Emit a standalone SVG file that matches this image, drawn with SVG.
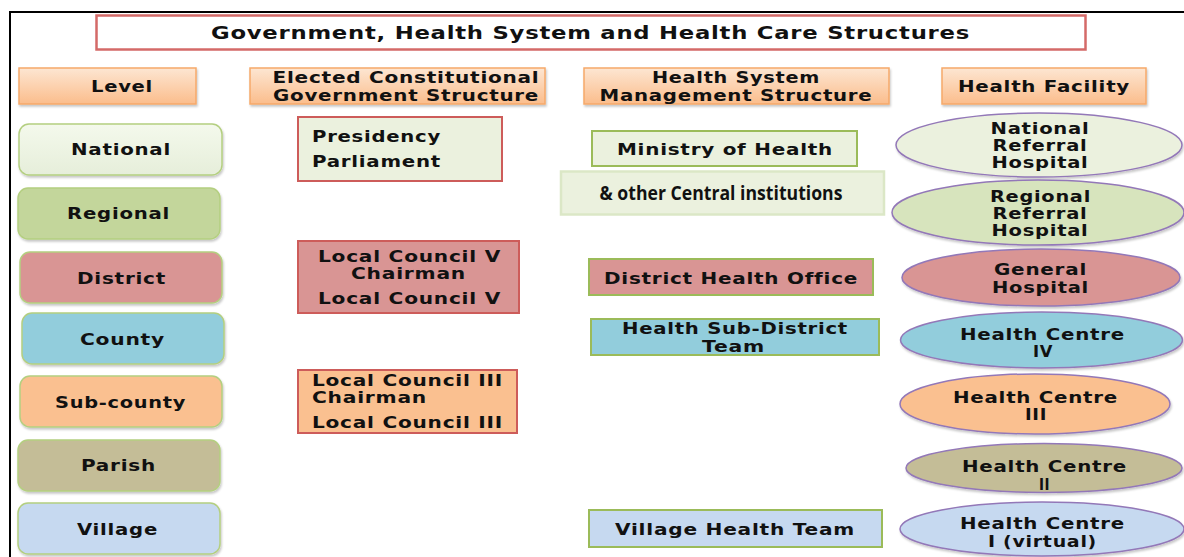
<svg xmlns="http://www.w3.org/2000/svg" width="1184" height="557" viewBox="0 0 1184 557">
  <defs>
    <linearGradient id="hdr" x1="0" y1="0" x2="0" y2="1">
      <stop offset="0" stop-color="#fde6d2"/>
      <stop offset="1" stop-color="#fbbd8c"/>
    </linearGradient>
    <linearGradient id="natl" x1="0" y1="0" x2="0" y2="1">
      <stop offset="0" stop-color="#f4f9ec"/>
      <stop offset="1" stop-color="#e6eeda"/>
    </linearGradient>
    <filter id="sh" x="-10%" y="-20%" width="120%" height="150%">
      <feDropShadow dx="1" dy="2" stdDeviation="1.2" flood-color="#000" flood-opacity="0.22"/>
    </filter>
    <style>
      text { font-family: "DejaVu Sans", Verdana, sans-serif; font-weight: bold; font-size: 16px; letter-spacing: 0.6px; fill: #111; text-anchor: middle; }
      .title { font-size: 18px; }
      .left { text-anchor: start; }
      .cal { font-family: "Open Sans", "Liberation Sans", sans-serif; font-weight: bold; font-size: 19px; letter-spacing: 0; }
      .hdr { fill: url(#hdr); stroke: #f6a96a; stroke-width: 1.5; filter: url(#sh); }
      .lvl { stroke: #b4cf80; stroke-width: 1.5; filter: url(#sh); }
      .gov { stroke: #cd5c5a; stroke-width: 2; }
      .hs { stroke: #9bbb59; stroke-width: 2; }
      .fac { stroke: #9378b8; stroke-width: 1.5; filter: url(#sh); }
      .green1 { fill: #ebf1de; }
      .green2 { fill: #c3d69b; }
      .green3 { fill: #d7e4bd; }
      .rose { fill: #d99594; }
      .blue { fill: #92cddc; }
      .peach { fill: #fac090; }
      .tan { fill: #c4bd97; }
      .sky { fill: #c6d9f0; }
    </style>
  </defs>

  <rect width="1184" height="557" fill="#ffffff"/>
  <!-- outer frame -->
  <path d="M10 557 V12 H1184" fill="none" stroke="#000" stroke-width="2"/>

  <!-- title -->
  <g id="title">
    <rect x="96.5" y="15.5" width="989" height="34" fill="#fff" stroke="#d46a68" stroke-width="2.5"/>
    <text class="title" x="590.5" y="39" textLength="759" lengthAdjust="spacingAndGlyphs">Government, Health System and Health Care Structures</text>
  </g>

  <!-- column headers -->
  <g id="hdr-level">
    <rect class="hdr" x="19" y="68" width="177" height="36"/>
    <text x="122" y="92" textLength="62" lengthAdjust="spacingAndGlyphs">Level</text>
  </g>
  <g id="hdr-gov">
    <rect class="hdr" x="250" y="68" width="295" height="36"/>
    <text x="406" y="83" textLength="267" lengthAdjust="spacingAndGlyphs">Elected Constitutional</text>
    <text x="406" y="101" textLength="266" lengthAdjust="spacingAndGlyphs">Government Structure</text>
  </g>
  <g id="hdr-hs">
    <rect class="hdr" x="584" y="68" width="305" height="36"/>
    <text x="736" y="83" textLength="168" lengthAdjust="spacingAndGlyphs">Health System</text>
    <text x="736" y="101" textLength="273" lengthAdjust="spacingAndGlyphs">Management Structure</text>
  </g>
  <g id="hdr-fac">
    <rect class="hdr" x="942" y="68" width="204" height="36"/>
    <text x="1044" y="92" textLength="172" lengthAdjust="spacingAndGlyphs">Health Facility</text>
  </g>

  <!-- levels -->
  <g id="lvl-national">
    <rect class="lvl" x="19" y="124" width="203" height="51" rx="10" fill="url(#natl)"/>
    <text x="121" y="155" textLength="100" lengthAdjust="spacingAndGlyphs">National</text>
  </g>
  <g id="lvl-regional">
    <rect class="lvl green2" x="18" y="188" width="202" height="51" rx="10"/>
    <text x="118.5" y="219" textLength="103" lengthAdjust="spacingAndGlyphs">Regional</text>
  </g>
  <g id="lvl-district">
    <rect class="lvl rose" x="20" y="252" width="202" height="51" rx="10"/>
    <text x="121.5" y="284" textLength="89" lengthAdjust="spacingAndGlyphs">District</text>
  </g>
  <g id="lvl-county">
    <rect class="lvl blue" x="22" y="313" width="202" height="51" rx="10"/>
    <text x="122.5" y="345" textLength="85" lengthAdjust="spacingAndGlyphs">County</text>
  </g>
  <g id="lvl-subcounty">
    <rect class="lvl peach" x="20" y="376" width="202" height="51" rx="10"/>
    <text x="120.5" y="408" textLength="131" lengthAdjust="spacingAndGlyphs">Sub-county</text>
  </g>
  <g id="lvl-parish">
    <rect class="lvl tan" x="18" y="440" width="202" height="51" rx="10"/>
    <text x="118.5" y="471" textLength="75" lengthAdjust="spacingAndGlyphs">Parish</text>
  </g>
  <g id="lvl-village">
    <rect class="lvl sky" x="18" y="503" width="202" height="51" rx="10"/>
    <text x="117.5" y="535" textLength="81" lengthAdjust="spacingAndGlyphs">Village</text>
  </g>

  <!-- government structure -->
  <g id="gov-national">
    <rect class="gov green1" x="298" y="117" width="204" height="64"/>
    <text class="left" x="312" y="142" textLength="129" lengthAdjust="spacingAndGlyphs">Presidency</text>
    <text class="left" x="312" y="167" textLength="129" lengthAdjust="spacingAndGlyphs">Parliament</text>
  </g>
  <g id="gov-district">
    <rect class="gov rose" x="298" y="241" width="221" height="72"/>
    <text x="409.5" y="262" textLength="183" lengthAdjust="spacingAndGlyphs">Local Council V</text>
    <text x="408.5" y="279" textLength="115" lengthAdjust="spacingAndGlyphs">Chairman</text>
    <text x="409.5" y="304" textLength="183" lengthAdjust="spacingAndGlyphs">Local Council V</text>
  </g>
  <g id="gov-subcounty">
    <rect class="gov peach" x="298" y="370" width="219" height="63"/>
    <text class="left" x="312" y="386" textLength="191" lengthAdjust="spacingAndGlyphs">Local Council III</text>
    <text class="left" x="312" y="403" textLength="115" lengthAdjust="spacingAndGlyphs">Chairman</text>
    <text class="left" x="312" y="428" textLength="191" lengthAdjust="spacingAndGlyphs">Local Council III</text>
  </g>

  <!-- health system management -->
  <g id="hs-moh">
    <rect class="hs green1" x="592" y="131" width="265" height="35"/>
    <text x="725" y="155" textLength="216" lengthAdjust="spacingAndGlyphs">Ministry of Health</text>
  </g>
  <g id="hs-central">
    <rect x="561" y="171.5" width="323" height="43" fill="#ebf1de" stroke="#dbe7c6" stroke-width="2.5"/>
    <text class="cal" x="721" y="200" textLength="243" lengthAdjust="spacingAndGlyphs">&amp; other Central institutions</text>
  </g>
  <g id="hs-dho">
    <rect class="hs rose" x="589" y="259" width="284" height="36"/>
    <text x="731" y="284" textLength="254" lengthAdjust="spacingAndGlyphs">District Health Office</text>
  </g>
  <g id="hs-hsd">
    <rect class="hs blue" x="591" y="319" width="288" height="36"/>
    <text x="735" y="334" textLength="226" lengthAdjust="spacingAndGlyphs">Health Sub-District</text>
    <text x="733.5" y="352" textLength="63" lengthAdjust="spacingAndGlyphs">Team</text>
  </g>
  <g id="hs-vht">
    <rect class="hs sky" x="589" y="510" width="293" height="37"/>
    <text x="735" y="535" textLength="240" lengthAdjust="spacingAndGlyphs">Village Health Team</text>
  </g>

  <!-- health facilities -->
  <g id="fac-nrh">
    <ellipse class="fac green1" cx="1039" cy="145" rx="143" ry="32"/>
    <text x="1040" y="134" textLength="99" lengthAdjust="spacingAndGlyphs">National</text>
    <text x="1040" y="151" textLength="95" lengthAdjust="spacingAndGlyphs">Referral</text>
    <text x="1040" y="168" textLength="97" lengthAdjust="spacingAndGlyphs">Hospital</text>
  </g>
  <g id="fac-rrh">
    <ellipse class="fac green3" cx="1038" cy="212.5" rx="146" ry="32.5"/>
    <text x="1040.5" y="202" textLength="101" lengthAdjust="spacingAndGlyphs">Regional</text>
    <text x="1040" y="219" textLength="95" lengthAdjust="spacingAndGlyphs">Referral</text>
    <text x="1040" y="236" textLength="97" lengthAdjust="spacingAndGlyphs">Hospital</text>
  </g>
  <g id="fac-gh">
    <ellipse class="fac rose" cx="1041" cy="277.5" rx="139" ry="28.5"/>
    <text x="1040.5" y="275" textLength="93" lengthAdjust="spacingAndGlyphs">General</text>
    <text x="1040.5" y="293" textLength="97" lengthAdjust="spacingAndGlyphs">Hospital</text>
  </g>
  <g id="fac-hc4">
    <ellipse class="fac blue" cx="1041.5" cy="340" rx="141" ry="28"/>
    <text x="1042.5" y="340" textLength="165" lengthAdjust="spacingAndGlyphs">Health Centre</text>
    <text x="1043" y="357" textLength="20" lengthAdjust="spacingAndGlyphs">IV</text>
  </g>
  <g id="fac-hc3">
    <ellipse class="fac peach" cx="1035" cy="404" rx="135" ry="30"/>
    <text x="1035.5" y="403" textLength="165" lengthAdjust="spacingAndGlyphs">Health Centre</text>
    <text x="1036" y="420" textLength="22" lengthAdjust="spacingAndGlyphs">III</text>
  </g>
  <g id="fac-hc2">
    <ellipse class="fac tan" cx="1044" cy="468" rx="138" ry="24.5"/>
    <text x="1044.5" y="472" textLength="165" lengthAdjust="spacingAndGlyphs">Health Centre</text>
    <text x="1044.5" y="490" textLength="11" lengthAdjust="spacingAndGlyphs">II</text>
  </g>
  <g id="fac-hc1">
    <ellipse class="fac sky" cx="1042" cy="529" rx="142" ry="27"/>
    <text x="1042.5" y="529" textLength="165" lengthAdjust="spacingAndGlyphs">Health Centre</text>
    <text x="1042.5" y="547" textLength="109" lengthAdjust="spacingAndGlyphs">I (virtual)</text>
  </g>
</svg>
